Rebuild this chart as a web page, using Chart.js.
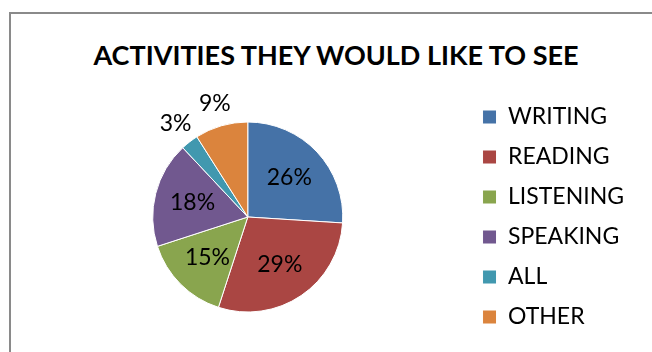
<!DOCTYPE html>
<html lang="en">
<head>
  <meta charset="UTF-8">
  <title>Activities They Would Like To See</title>
  <style>
    html, body { margin: 0; padding: 0; background: #fff; }
    body { width: 652px; height: 352px; position: relative; overflow: hidden; font-family: Lato, "Open Sans", sans-serif; }
    .frame { position: absolute; left: 9px; top: 12px; right: -5px; bottom: -5px; border-left: 2px solid #8a8a8a; border-top: 2px solid #8a8a8a; }
    .chart-title { position: absolute; left: 0; width: 672px; top: 41px; line-height: 27px; text-align: center; font-weight: bold; font-size: 27px; color: #000; }
    .chart-box { position: absolute; left: 0; top: 0; width: 652px; height: 352px; }
  </style>
</head>
<body>
  <div class="frame"></div>
  <div class="chart-title">ACTIVITIES THEY WOULD LIKE TO SEE</div>
  <div class="chart-box">
    <canvas id="pieChart" width="652" height="352"></canvas>
  </div>

  <script src="https://cdn.jsdelivr.net/npm/chart.js"></script>
  <script>
    // data
    const categories = ['WRITING', 'READING', 'LISTENING', 'SPEAKING', 'ALL', 'OTHER'];
    const percentages = [26, 29, 15, 18, 3, 9];
    const sliceColors = ['#4572A7', '#AA4643', '#89A54E', '#71588F', '#4198AF', '#DB843D'];

    // percent labels: inside for big slices, just outside for small ones
    const sliceLabels = {
      id: 'sliceLabels',
      afterDatasetsDraw(chart) {
        const ctx = chart.ctx;
        const meta = chart.getDatasetMeta(0);
        ctx.save();
        ctx.font = '23px Lato, sans-serif';
        ctx.fillStyle = '#000';
        ctx.textAlign = 'center';
        ctx.textBaseline = 'middle';
        meta.data.forEach((arc, i) => {
          const p = arc.getProps(['x', 'y', 'startAngle', 'endAngle', 'outerRadius'], true);
          const mid = (p.startAngle + p.endAngle) / 2;
          const dist = percentages[i] < 10 ? p.outerRadius * 1.24 : p.outerRadius * 0.6;
          ctx.fillText(percentages[i] + '%', p.x + Math.cos(mid) * dist, p.y + Math.sin(mid) * dist);
        });
        ctx.restore();
      }
    };

    const ctx = document.getElementById('pieChart').getContext('2d');
    new Chart(ctx, {
      type: 'pie',
      data: {
        labels: categories,
        datasets: [{
          data: percentages,
          backgroundColor: sliceColors,
          borderColor: '#fff',
          borderWidth: 1,
          radius: 95
        }]
      },
      options: {
        responsive: false,
        animation: false,
        events: [],
        layout: { padding: { left: 30, right: 18, top: 82, bottom: 0 } },
        plugins: {
          legend: {
            position: 'right',
            align: 'center',
            labels: {
              boxWidth: 14,
              boxHeight: 14,
              padding: 17,
              color: '#000',
              font: { family: 'Lato', size: 23 }
            }
          },
          tooltip: { enabled: false }
        }
      },
      plugins: [sliceLabels]
    });
  </script>
</body>
</html>
